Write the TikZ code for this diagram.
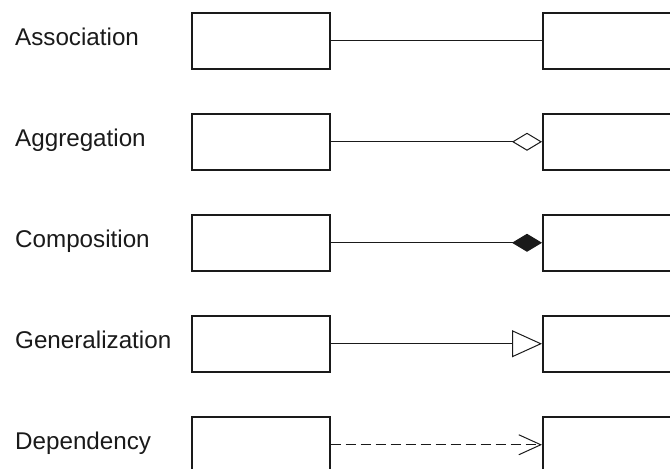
\documentclass[tikz,border=0pt]{standalone}
\usepackage{fontspec}
\setmainfont{Liberation Sans}
\usetikzlibrary{arrows.meta}
\definecolor{ink}{HTML}{1A1A1A}
\begin{document}
\begin{tikzpicture}[x=1pt,y=-1pt,
  box/.style={draw=ink,line width=1.5pt,minimum width=138pt,minimum height=56pt,inner sep=0pt,anchor=north west},
  rbox/.style={draw=ink,line width=1.5pt,minimum width=150pt,minimum height=56pt,inner sep=0pt,anchor=north west},
  lbl/.style={anchor=base west,inner sep=0pt,text=ink,font=\fontsize{24.2}{28}\selectfont},
  conn/.style={draw=ink,line width=1.2pt}]
\useasboundingbox (0,0) rectangle (670,469);
\clip (0,0) rectangle (670,469);
\fill[white] (0,0) rectangle (670,469);
\foreach \i/\t in {1/12,2/113,3/214,4/315,5/416}{
  \node[box] (L\i) at (191,\t) {};
  \node[rbox] (R\i) at (542,\t) {};
}
\node[lbl] (t1) at (15,45) {Association};
\node[lbl] (t2) at (15,146) {Aggregation};
\node[lbl] (t3) at (15,247) {Composition};
\node[lbl] (t4) at (15,348) {Generalization};
\node[lbl] (t5) at (15,449) {Dependency};
\draw[conn] (L1.east) -- (R1.west);
\draw[conn,-{Diamond[open,length=30pt,width=18pt,line width=1pt]}] (L2.east) -- (R2.west);
\draw[conn,-{Diamond[fill=ink,length=30pt,width=18pt]}] (L3.east) -- (R3.west);
\draw[conn,-{Triangle[open,length=30pt,width=27pt,line width=1pt]}] (L4.east) -- (R4.west);
\draw[conn,dash pattern=on 10pt off 5pt,-{Straight Barb[length=22pt,width=20pt,line width=1pt]}] (L5.east) -- (R5.west);
\end{tikzpicture}
\end{document}
